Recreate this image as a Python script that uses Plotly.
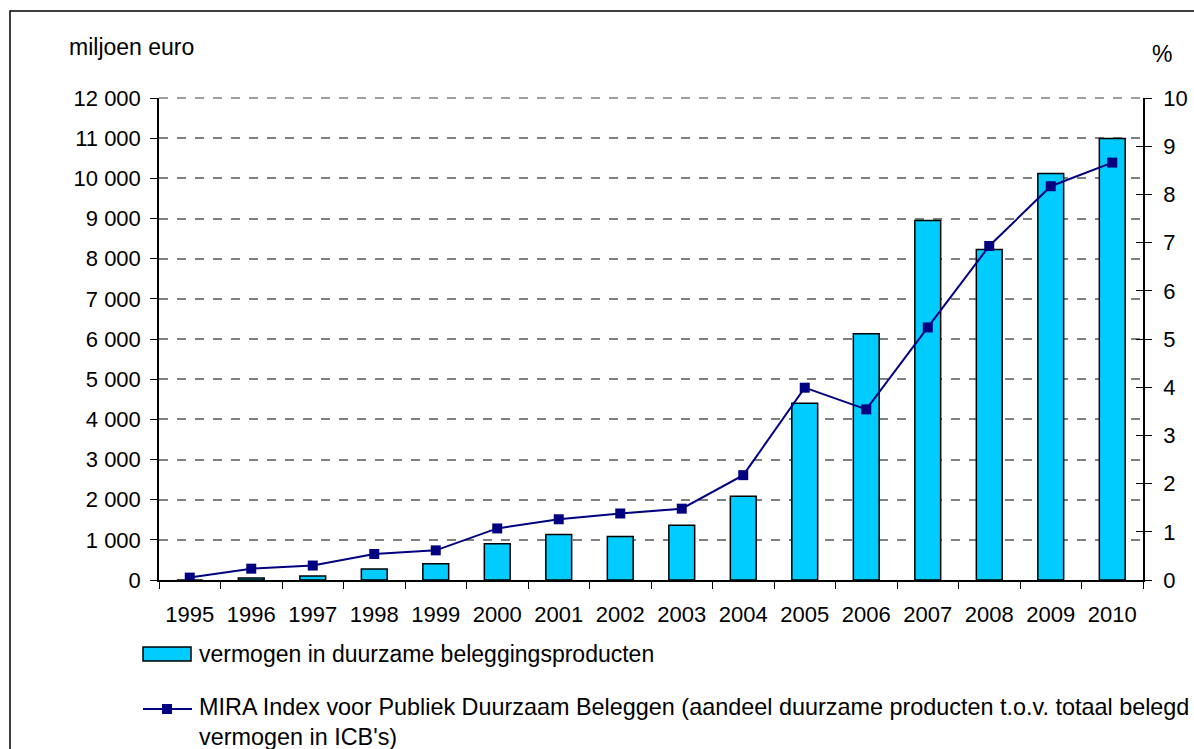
import plotly.graph_objects as go

years = [str(y) for y in range(1995, 2011)]
vermogen = [0, 50, 100, 274, 406, 905, 1130, 1080, 1360, 2085, 4400, 6130, 8952, 8230, 10122, 10993]
mira_index = [0.05, 0.235, 0.30, 0.54, 0.615, 1.07, 1.26, 1.38, 1.48, 2.175, 3.99, 3.54, 5.24, 6.93, 8.17, 8.66]
y_left_title = "miljoen euro"
y_right_title = "%"
bar_name = "vermogen in duurzame beleggingsproducten"
line_name = "MIRA Index voor Publiek Duurzaam Beleggen (aandeel duurzame producten t.o.v. totaal belegd<br>vermogen in ICB's)"

FONT = "Liberation Sans, Arial, sans-serif"
W, H = 1194, 749
L, R, T, B = 159, 1143, 98, 580
pw, ph = R - L, B - T

def px(x):
    return (x - L) / pw

def py(y):
    return (B - y) / ph

fig = go.Figure()
fig.add_trace(go.Bar(
    x=years, y=vermogen, name=bar_name, width=0.42,
    marker=dict(color="#00CCFF", line=dict(color="black", width=1.5)),
    showlegend=False, yaxis="y",
))
fig.add_trace(go.Scatter(
    x=years, y=mira_index, name=line_name, mode="lines+markers",
    line=dict(color="#000080", width=2),
    marker=dict(symbol="square", size=10, color="#000080"),
    showlegend=False, yaxis="y2",
))
fig.add_trace(go.Scatter(
    x=[years[0]], y=[None], yaxis="y3", showlegend=False, hoverinfo="skip",
))

axis_font = dict(family=FONT, size=22, color="black")

fig.update_layout(
    width=W, height=H,
    margin=dict(l=L, r=W - R, t=T, b=H - B, pad=0, autoexpand=False),
    paper_bgcolor="white", plot_bgcolor="white",
    separators=". ",
    font=dict(family=FONT, color="black"),
    xaxis=dict(
        type="category", tickson="boundaries", ticks="outside", ticklen=7,
        tickwidth=1.2, tickcolor="black", ticklabelstandoff=14, automargin=False,
        showline=True, linecolor="black", linewidth=1.5,
        tickfont=axis_font, showgrid=False, range=[-0.5, 15.5],
    ),
    yaxis=dict(
        range=[0, 12000], dtick=1000, tickformat=",d",
        ticks="outside", ticklen=7, tickwidth=1.2, tickcolor="black",
        ticklabelstandoff=5, automargin=False,
        showline=True, linecolor="black", linewidth=1.5,
        showgrid=True, gridcolor="#808080", griddash="dash", gridwidth=1.5,
        zeroline=False, tickfont=axis_font,
    ),
    yaxis2=dict(
        range=[0, 10], dtick=1, overlaying="y", side="right",
        ticks="outside", ticklen=7, tickwidth=1.2, tickcolor="black",
        ticklabelstandoff=7, automargin=False,
        showline=True, linecolor="black", linewidth=1.5,
        showgrid=False, zeroline=False, tickfont=axis_font,
    ),
    yaxis3=dict(
        range=[0, 10], dtick=1, overlaying="y", side="right",
        ticks="inside", ticklen=7, tickwidth=1.2, tickcolor="black",
        automargin=False,
        showline=False, showgrid=False, zeroline=False, showticklabels=False,
    ),
    showlegend=False,
)

shapes = [
    dict(type="rect", xref="paper", yref="paper",
         x0=px(10), x1=px(1210), y0=py(11), y1=py(770),
         line=dict(color="black", width=1.5), fillcolor="rgba(0,0,0,0)", layer="below"),
    dict(type="line", xref="paper", yref="paper", x0=0, x1=1, y0=1, y1=1,
         line=dict(color="#808080", width=1.5, dash="dash"), layer="below"),
    dict(type="rect", xref="paper", yref="paper",
         x0=px(143), x1=px(191), y0=py(647), y1=py(661),
         line=dict(color="black", width=1.5), fillcolor="#00CCFF"),
    dict(type="line", xref="paper", yref="paper",
         x0=px(143), x1=px(192), y0=py(709), y1=py(709),
         line=dict(color="#000080", width=2)),
    dict(type="rect", xref="paper", yref="paper",
         x0=px(162), x1=px(172), y0=py(704), y1=py(714),
         line=dict(color="#000080", width=0), fillcolor="#000080"),
]
fig.update_layout(shapes=shapes)

txt_font = dict(family=FONT, size=23, color="black")
fig.add_annotation(text=y_left_title, xref="paper", yref="paper", x=px(67), y=py(47),
                   xanchor="left", yanchor="middle", showarrow=False, font=txt_font)
fig.add_annotation(text=y_right_title, xref="paper", yref="paper", x=px(1162), y=py(54),
                   xanchor="center", yanchor="middle", showarrow=False, font=txt_font)
fig.add_annotation(text=bar_name, xref="paper", yref="paper", x=px(197), y=py(654),
                   xanchor="left", yanchor="middle", showarrow=False, font=txt_font)
fig.add_annotation(text=line_name, xref="paper", yref="paper", x=px(197), y=py(722),
                   xanchor="left", yanchor="middle", align="left", showarrow=False,
                   font=dict(family=FONT, size=23.4, color="black"))

fig.write_html("out.html")
